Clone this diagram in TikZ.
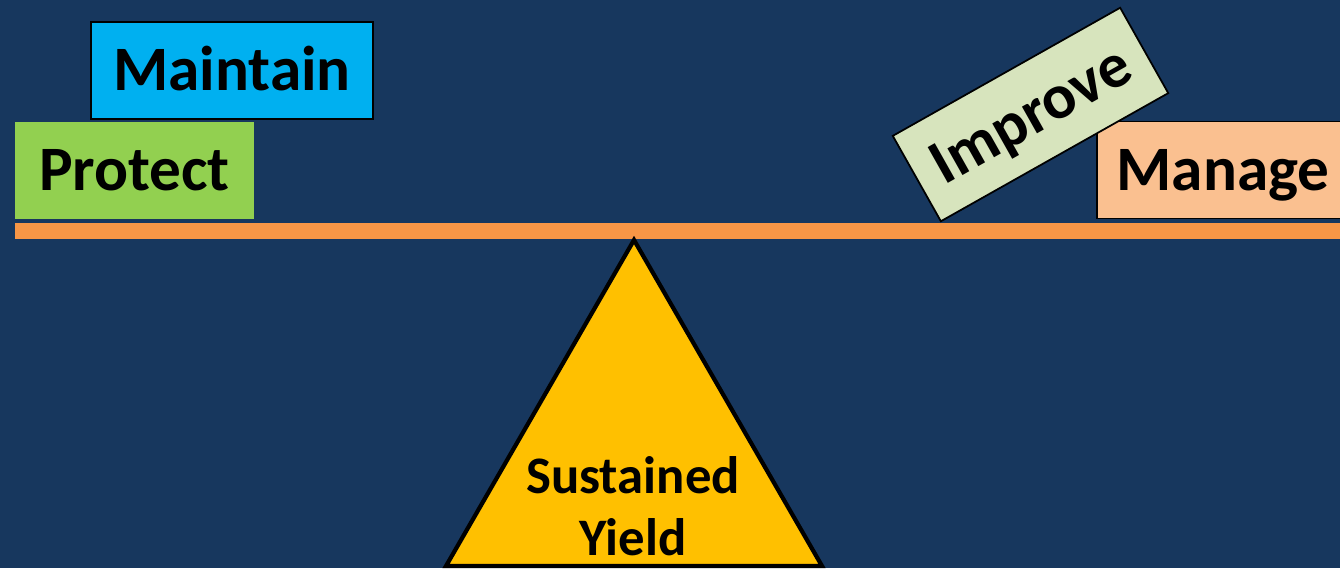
\documentclass[tikz,border=0pt]{standalone}
\usepackage{fontspec}
\setmainfont{Carlito}
\usepackage{tikz}
\usetikzlibrary{positioning}
\usepackage{xcolor}
\definecolor{bgnavy}{HTML}{17375E}
\definecolor{beamorange}{HTML}{F79646}
\definecolor{protectgreen}{HTML}{92D050}
\definecolor{maintainblue}{HTML}{00B0F0}
\definecolor{improvegreen}{HTML}{D7E4BD}
\definecolor{managepeach}{HTML}{FAC090}
\definecolor{fulcrumyellow}{HTML}{FFC000}

\begin{document}
\begin{tikzpicture}[
      every node/.style={font=\bfseries\fontsize{18}{20}\selectfont, text=black},
      weight/.style={
        inner sep=0pt,
        minimum height=0.97cm,
        text height=0.4cm, text depth=0cm,
        draw=black, line width=0.5pt
      },
      fulcrum/.style={
        fill=fulcrumyellow,
        draw=black, line width=1.2pt,
        line join=miter
      }
    ]
      % page and background
      \useasboundingbox (0,0) rectangle (13.4,5.68);
      \fill[bgnavy] (0,0) rectangle (13.4,5.68);

      % the beam
      \fill[beamorange] (0.15,3.29) rectangle (13.5,3.45);

      % weights on the left end
      \node[weight, draw=none, fill=protectgreen, minimum width=2.39cm] (protect) at (1.345,3.975) {Protect};
      \node[weight, fill=maintainblue, minimum width=2.82cm] (maintain) at (2.32,4.975) {Maintain};

      % weights on the right end
      \node[weight, fill=managepeach, minimum width=2.52cm] (manage) at (12.23,3.98) {Manage};
      \node[weight, fill=improvegreen, minimum width=2.61cm, minimum height=0.98cm,
            rotate=29.4] (improve) at (10.305,4.535) {Improve};

      % fulcrum
      \coordinate (apex) at (6.34,3.28);
      \draw[fulcrum] (apex) -- (8.22,0.02) -- (4.46,0.02) -- cycle;
      \node[align=center, font=\bfseries\fontsize{15}{17.6}\selectfont] (yield) at (6.33,0.62)
        {Sustained\\Yield};
    \end{tikzpicture}
\end{document}
